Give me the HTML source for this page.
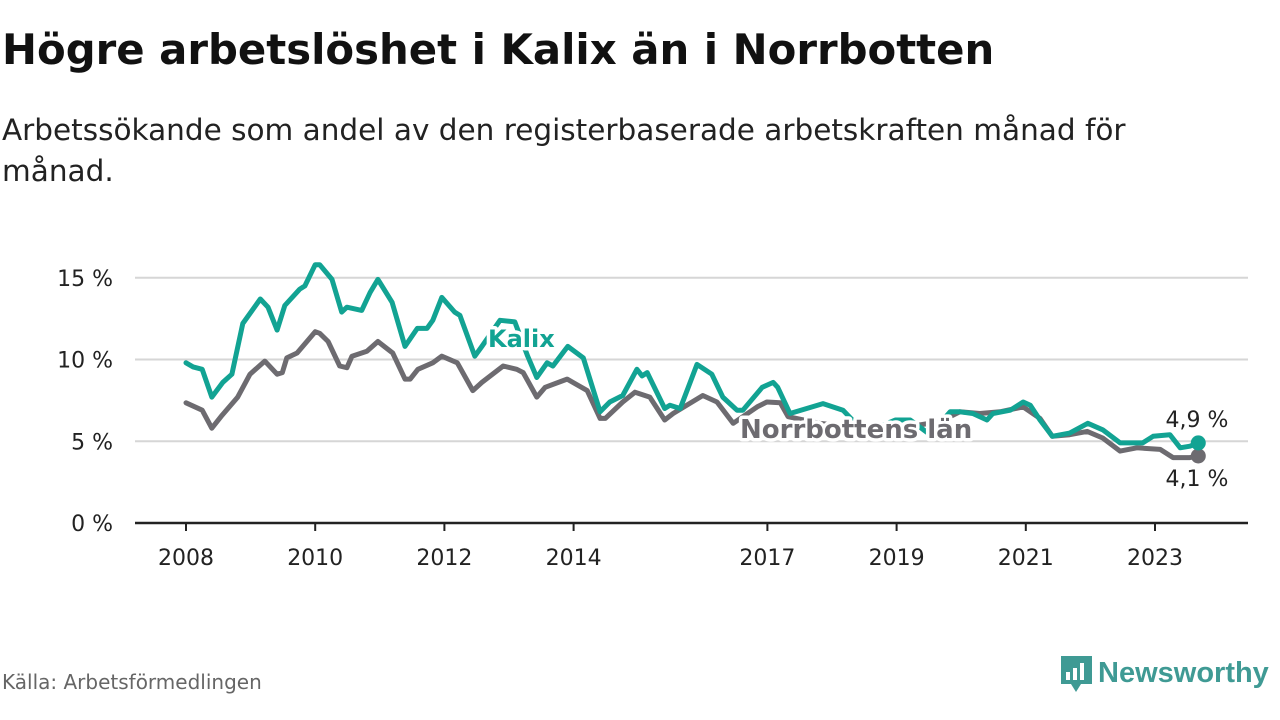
<!DOCTYPE html>
<html><head><meta charset="utf-8">
<style>
body{margin:0;width:1280px;height:720px;background:#fff;font-family:"DejaVu Sans","Liberation Sans",sans-serif;overflow:hidden;position:relative;color:#111}
#title{position:absolute;left:2px;top:25px;font-size:41.8px;font-weight:bold;letter-spacing:0px}
#sub{position:absolute;left:2px;top:110px;font-size:29.5px;line-height:41px;width:1200px;color:#222}
#src{position:absolute;left:2px;top:670px;font-size:20px;color:#666}
#logo{position:absolute;left:1060px;top:654px}
svg text{font-family:"DejaVu Sans","Liberation Sans",sans-serif}
</style></head><body>
<div id="title">Högre arbetslöshet i Kalix än i Norrbotten</div>
<div id="sub">Arbetssökande som andel av den registerbaserade arbetskraften månad för månad.</div>
<svg id="chart" width="1280" height="720" style="position:absolute;left:0;top:0"></svg>
<div id="src">Källa: Arbetsförmedlingen</div>
<svg id="logo" width="220" height="44">
<path d="M1 2h31v28h-11l-5 8l-5-8h-10z" fill="#3f9a94"/>
<rect x="6" y="18" width="4" height="8" fill="#fff"/><rect x="13" y="14" width="4" height="12" fill="#fff"/><rect x="20" y="9" width="4" height="17" fill="#fff"/>
<text x="38" y="28" font-size="29" font-weight="bold" fill="#3f9a94" style="font-family:'Liberation Sans',sans-serif">Newsworthy</text>
</svg>
<script>
const kalixYears=[0.0,0.11,0.25,0.40,0.57,0.71,0.88,1.15,1.27,1.41,1.53,1.76,1.84,2.00,2.07,2.26,2.41,2.49,2.72,2.85,2.97,3.19,3.39,3.58,3.73,3.82,3.96,4.16,4.24,4.47,4.58,4.86,5.09,5.29,5.43,5.59,5.68,5.87,5.91,6.15,6.41,6.56,6.76,6.98,7.06,7.14,7.41,7.49,7.65,7.91,8.14,8.31,8.53,8.62,8.92,9.09,9.16,9.35,9.86,10.17,10.51,10.98,11.21,11.52,11.83,11.98,12.18,12.40,12.49,12.76,12.96,13.07,13.22,13.41,13.68,13.96,14.19,14.46,14.81,14.97,15.23,15.39,15.54,15.67];
const kalixValues=[9.8,9.55,9.4,7.7,8.6,9.1,12.2,13.7,13.2,11.8,13.3,14.3,14.5,15.8,15.8,14.9,12.9,13.2,13.0,14.1,14.9,13.5,10.8,11.9,11.9,12.4,13.8,12.9,12.7,10.2,10.8,12.4,12.3,10.2,8.9,9.8,9.6,10.6,10.8,10.1,6.8,7.4,7.8,9.4,9.0,9.2,7.0,7.2,7.0,9.7,9.1,7.7,6.9,6.9,8.3,8.6,8.3,6.7,7.3,6.9,5.5,6.3,6.3,5.4,6.8,6.8,6.7,6.3,6.7,6.9,7.4,7.2,6.3,5.3,5.5,6.1,5.7,4.9,4.9,5.3,5.4,4.6,4.7,4.9];
const norrYears=[0.0,0.25,0.40,0.56,0.80,0.99,1.22,1.41,1.49,1.56,1.72,2.00,2.07,2.20,2.38,2.49,2.57,2.80,2.97,3.20,3.39,3.47,3.59,3.82,3.96,4.20,4.44,4.58,4.91,5.12,5.22,5.43,5.56,5.90,6.21,6.41,6.49,6.76,6.95,7.18,7.41,7.54,8.00,8.22,8.47,8.84,8.99,9.20,9.32,9.81,10.28,11.05,11.67,11.98,12.29,12.60,12.96,13.22,13.41,13.68,13.95,14.19,14.46,14.72,15.08,15.28,15.54,15.67];
const norrValues=[7.35,6.9,5.8,6.6,7.7,9.1,9.9,9.1,9.2,10.1,10.4,11.7,11.6,11.1,9.6,9.5,10.2,10.5,11.1,10.4,8.8,8.8,9.4,9.8,10.2,9.8,8.1,8.6,9.6,9.4,9.2,7.7,8.3,8.8,8.1,6.4,6.4,7.4,8.0,7.7,6.3,6.7,7.8,7.4,6.1,7.1,7.4,7.35,6.5,6.1,5.9,5.8,6.2,6.8,6.7,6.8,7.1,6.4,5.3,5.4,5.6,5.2,4.4,4.6,4.5,4.0,4.0,4.1];
const yTicks=[0,5,10,15];
const yTickLabels=["0 %","5 %","10 %","15 %"];
const xTicks=[2008,2010,2012,2014,2017,2019,2021,2023];
const baseYear=2008;
const NS="http://www.w3.org/2000/svg";
const svg=document.getElementById('chart');
const xs=y=>186+(y-2008)*64.6;
const ys=v=>523-v*16.35;
function mk(t,a){const e=document.createElementNS(NS,t);for(const k in a)e.setAttribute(k,a[k]);svg.appendChild(e);return e;}
yTicks.forEach((t,i)=>{
  if(t>0){const g=mk('line',{x1:135,x2:1248,y1:ys(t),y2:ys(t),stroke:'#d6d6d6','stroke-width':2});
  
  }
  const l=mk('text',{x:113,y:ys(t)+8,'text-anchor':'end','font-size':22,fill:'#222'});l.textContent=yTickLabels[i];
  
  
});
const ax=mk('line',{x1:135,x2:1248,y1:523,y2:523,stroke:'#222','stroke-width':2.5});


xTicks.forEach(t=>{
  const tk=mk('line',{x1:xs(t),x2:xs(t),y1:523,y2:531,stroke:'#222','stroke-width':2});
  
  
  const l=mk('text',{x:xs(t),y:565,'text-anchor':'middle','font-size':22,fill:'#222'});l.textContent=t;
  
  
});
function line(yrs,vals,col,name){
  const d=yrs.map((y,i)=>(i?'L':'M')+xs(baseYear+y).toFixed(1)+','+ys(vals[i]).toFixed(1)).join('');
  const p=mk('path',{d:d,fill:'none',stroke:col,'stroke-width':5,'stroke-linejoin':'round','stroke-linecap':'round'});
  
  
  const n=yrs.length-1;
  const c=mk('circle',{cx:xs(baseYear+yrs[n]),cy:ys(vals[n]),r:7.5,fill:col});
  
  
}
line(norrYears,norrValues,'#6d6b70','norrbotten-line');
line(kalixYears,kalixValues,'#12a393','kalix-line');
function lab(x,y,txt,col,size,name,anchor){
  const t=mk('text',{x:x,y:y,'font-size':size,'font-weight':'bold',fill:col,stroke:'#fff','stroke-width':7,'paint-order':'stroke','stroke-linejoin':'round','text-anchor':anchor||'start'});
  t.textContent=txt;
  
  
}
lab(488,347,'Kalix','#12a393',24,'kalix-label');
lab(740,438,'Norrbottens län','#6d6b70',26,'norrbotten-label');
const e1=mk('text',{x:1197,y:427,'text-anchor':'middle','font-size':22,fill:'#222'});e1.textContent='4,9 %';


const e2=mk('text',{x:1197,y:486,'text-anchor':'middle','font-size':22,fill:'#222'});e2.textContent='4,1 %';


</script>
</body></html>
